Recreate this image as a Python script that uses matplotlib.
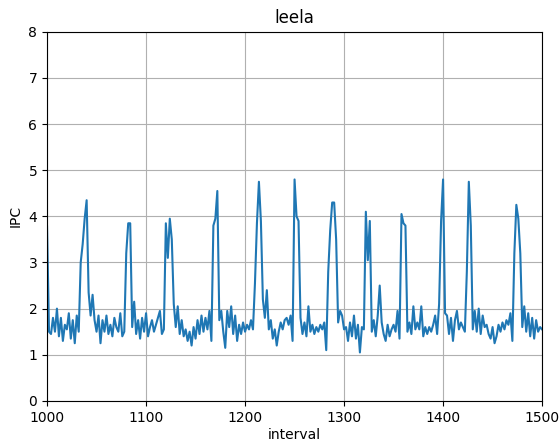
import numpy as np
import matplotlib
matplotlib.use("Agg")
import matplotlib.pyplot as plt

# interval index (every second interval)
intervals = np.arange(1000, 1501, 2)

ipc = [
    3.78, 1.5, 1.45, 1.8, 1.5, 2.0, 1.4, 1.8, 1.3, 1.65,
    1.55, 1.9, 1.35, 1.75, 1.25, 1.85, 1.5, 3.0, 3.4, 3.95,
    4.35, 2.35, 1.85, 2.3, 1.75, 1.5, 1.85, 1.25, 1.75, 1.5,
    1.85, 1.45, 1.65, 1.4, 1.8, 1.6, 1.5, 1.9, 1.4, 1.5,
    3.2, 3.85, 3.85, 1.6, 2.15, 1.45, 1.75, 1.35, 1.8, 1.5,
    1.9, 1.4, 1.6, 1.75, 1.5, 1.65, 1.8, 1.95, 1.45, 1.55,
    3.85, 3.1, 3.95, 3.5, 2.1, 1.6, 2.05, 1.45, 1.75, 1.4,
    1.55, 1.3, 1.5, 1.2, 1.6, 1.35, 1.75, 1.45, 1.85, 1.5,
    1.8, 1.55, 1.95, 1.3, 3.8, 3.95, 4.55, 1.75, 1.95, 1.5,
    1.15, 1.95, 1.6, 2.05, 1.45, 1.85, 1.3, 1.65, 1.45, 1.7,
    1.5, 1.65, 1.55, 1.75, 1.55, 2.55, 3.85, 4.75, 3.9, 2.2,
    1.8, 2.4, 1.55, 1.75, 1.35, 1.55, 1.2, 1.5, 1.7, 1.55,
    1.75, 1.8, 1.65, 1.85, 1.3, 4.8, 4.0, 3.9, 1.8, 1.45,
    1.7, 1.4, 2.05, 1.5, 1.65, 1.45, 1.6, 1.5, 1.65, 1.55,
    1.7, 1.1, 2.8, 3.7, 4.3, 4.3, 3.5, 1.7, 1.95, 1.85,
    1.55, 1.6, 1.3, 1.7, 1.4, 1.85, 1.35, 1.65, 1.05, 1.6,
    1.55, 4.1, 3.05, 3.9, 1.5, 1.75, 1.4, 1.85, 2.5, 1.7,
    1.45, 1.3, 1.65, 1.4, 1.55, 1.65, 1.5, 1.95, 1.35, 4.05,
    3.85, 3.8, 1.5, 1.7, 1.45, 2.05, 1.55, 1.7, 1.55, 2.05,
    1.4, 1.6, 1.45, 1.6, 1.5, 1.65, 1.85, 1.45, 2.1, 3.9,
    4.8, 1.9, 1.85, 1.45, 1.8, 1.3, 1.75, 1.95, 1.55, 1.7,
    1.6, 1.5, 2.8, 4.75, 3.8, 1.55, 1.95, 1.5, 2.0, 1.45,
    1.85, 1.6, 1.65, 1.45, 1.35, 1.6, 1.25, 1.4, 1.65, 1.5,
    1.7, 1.55, 1.75, 1.65, 1.9, 1.3, 3.2, 4.25, 3.95, 3.2,
    1.6, 2.05, 1.5, 1.9, 1.4, 1.8, 1.35, 1.75, 1.5, 1.6,
    1.55,
]

fig, ax = plt.subplots(figsize=(5.6, 4.42), dpi=100)
fig.subplots_adjust(left=0.084, right=0.968, top=0.928, bottom=0.093)

ax.plot(intervals, ipc, color="tab:blue")
ax.set_xlim(1000, 1500)
ax.set_ylim(0, 8)
ax.set_title("leela")
ax.set_xlabel("interval", labelpad=2.5)
ax.set_ylabel("IPC")
ax.grid(True)

plt.savefig("out.png")
